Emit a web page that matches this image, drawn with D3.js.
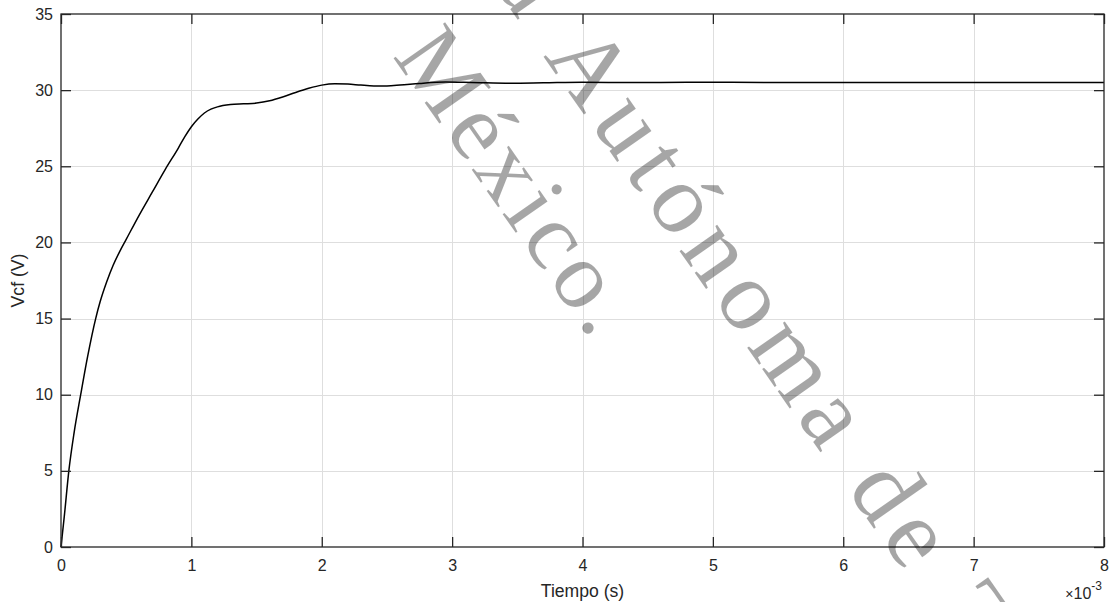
<!DOCTYPE html>
<html>
<head>
<meta charset="utf-8">
<script src="https://cdn.jsdelivr.net/npm/d3@7"></script>
<style>
  html, body { margin: 0; padding: 0; background: #fff; }
  svg { display: block; }
  text.lbl { font-family: "Liberation Sans", Arial, sans-serif; fill: #262626; }
  text.wm { font-family: "Liberation Serif", "Times New Roman", serif; fill: #000; fill-opacity: 0.35; }
</style>
</head>
<body>
<svg id="chart" width="1109" height="602"></svg>
<script>
// Capacitor voltage response (time in ms, voltage in V)
const timeMs = [0, 0.025, 0.061, 0.10, 0.151, 0.204, 0.266, 0.30, 0.35, 0.40, 0.45, 0.50, 0.60, 0.70, 0.80, 0.90, 0.95, 1.00, 1.05, 1.10, 1.15, 1.20, 1.30, 1.40, 1.50, 1.60, 1.70, 1.80, 1.90, 2.00, 2.10, 2.20, 2.30, 2.40, 2.50, 2.60, 2.75, 2.95, 3.15, 3.45, 3.70, 4.00, 4.40, 4.80, 5.50, 6.50, 8.00];
const vcf = [0, 1.99, 5.06, 7.48, 10.0, 12.5, 15.0, 16.1, 17.4, 18.5, 19.4, 20.2, 21.8, 23.3, 24.8, 26.2, 26.95, 27.6, 28.1, 28.5, 28.75, 28.9, 29.05, 29.1, 29.15, 29.3, 29.55, 29.85, 30.12, 30.33, 30.42, 30.40, 30.33, 30.28, 30.28, 30.33, 30.44, 30.53, 30.50, 30.45, 30.48, 30.52, 30.50, 30.52, 30.50, 30.50, 30.50];

const xTicks = [0, 1, 2, 3, 4, 5, 6, 7, 8];
const yTicks = [0, 5, 10, 15, 20, 25, 30, 35];
const xLabel = "Tiempo (s)";
const yLabel = "Vcf (V)";
const xExponent = "-3";
const watermarkLines = ["Universidad", "Autónoma de Zacatecas", "México."];

const svg = d3.select("#chart");
const plotL = 61, plotR = 1104, plotT = 14, plotB = 547;

const x = d3.scaleLinear().domain([0, 8]).range([plotL, plotR]);
const y = d3.scaleLinear().domain([0, 35]).range([plotB, plotT]);

// grid
const grid = svg.append("g").attr("stroke", "#dedede").attr("stroke-width", 1);
grid.selectAll("line.gx").data(xTicks.slice(1, -1)).join("line")
  .attr("x1", d => Math.round(x(d)) + 0.5).attr("x2", d => Math.round(x(d)) + 0.5)
  .attr("y1", plotT).attr("y2", plotB);
grid.selectAll("line.gy").data(yTicks.slice(1, -1)).join("line")
  .attr("y1", d => Math.round(y(d)) + 0.5).attr("y2", d => Math.round(y(d)) + 0.5)
  .attr("x1", plotL).attr("x2", plotR);

// response curve
const line = d3.line()
  .x((d, i) => x(timeMs[i]))
  .y(d => y(d))
  .curve(d3.curveMonotoneX);
svg.append("path")
  .attr("d", line(vcf))
  .attr("fill", "none")
  .attr("stroke", "#000")
  .attr("stroke-width", 1.5)
  .attr("stroke-linejoin", "round");

// axes
const fmt = d3.format("d");
const axB = svg.append("g").attr("transform", `translate(0,${plotB})`)
  .call(d3.axisBottom(x).tickValues(xTicks).tickFormat(fmt).tickSize(-10).tickPadding(13));
const axL = svg.append("g").attr("transform", `translate(${plotL},0)`)
  .call(d3.axisLeft(y).tickValues(yTicks).tickFormat(fmt).tickSize(-10).tickPadding(8));
const axT = svg.append("g").attr("transform", `translate(0,${plotT})`)
  .call(d3.axisTop(x).tickValues(xTicks).tickFormat("").tickSize(-10));
const axR = svg.append("g").attr("transform", `translate(${plotR},0)`)
  .call(d3.axisRight(y).tickValues(yTicks).tickFormat("").tickSize(-10));

[axB, axL, axT, axR].forEach(g => {
  g.select(".domain").remove();
  g.selectAll(".tick line").attr("stroke", "#262626").attr("stroke-width", 1.3);
  g.selectAll(".tick text").attr("class", "lbl").style("font-size", "16px");
});

svg.append("rect")
  .attr("x", plotL).attr("y", plotT)
  .attr("width", plotR - plotL).attr("height", plotB - plotT)
  .attr("fill", "none").attr("stroke", "#262626").attr("stroke-width", 1.3);

// labels
svg.append("text").attr("class", "lbl")
  .attr("x", (plotL + plotR) / 2).attr("y", 597)
  .attr("text-anchor", "middle").style("font-size", "17.6px")
  .text(xLabel);

svg.append("text").attr("class", "lbl")
  .attr("transform", `translate(24,${(plotT + plotB) / 2}) rotate(-90)`)
  .attr("text-anchor", "middle").style("font-size", "17.6px")
  .text(yLabel);

const expo = svg.append("text").attr("class", "lbl")
  .attr("x", plotR - 2).attr("y", 599)
  .attr("text-anchor", "end").style("font-size", "16px");
expo.append("tspan").style("font-size", "14px").text("\u00d7");
expo.append("tspan").text("10");
expo.append("tspan").attr("dy", -9).style("font-size", "12px").text(xExponent);

// diagonal watermark
const angle = 55;
const wm = svg.append("g");
wm.append("text").attr("class", "wm")
  .attr("transform", `translate(543,56) rotate(${angle})`)
  .attr("x", -34).attr("text-anchor", "end")
  .style("font-size", "100px").style("letter-spacing", "9px")
  .text(watermarkLines[0]);
wm.append("text").attr("class", "wm")
  .attr("transform", `translate(543,56) rotate(${angle})`)
  .style("font-size", "100px").style("letter-spacing", "9px")
  .text(watermarkLines[1]);
wm.append("text").attr("class", "wm")
  .attr("transform", `translate(392,56) rotate(${angle})`)
  .style("font-size", "96px").style("letter-spacing", "5px")
  .text(watermarkLines[2]);
</script>
</body>
</html>
